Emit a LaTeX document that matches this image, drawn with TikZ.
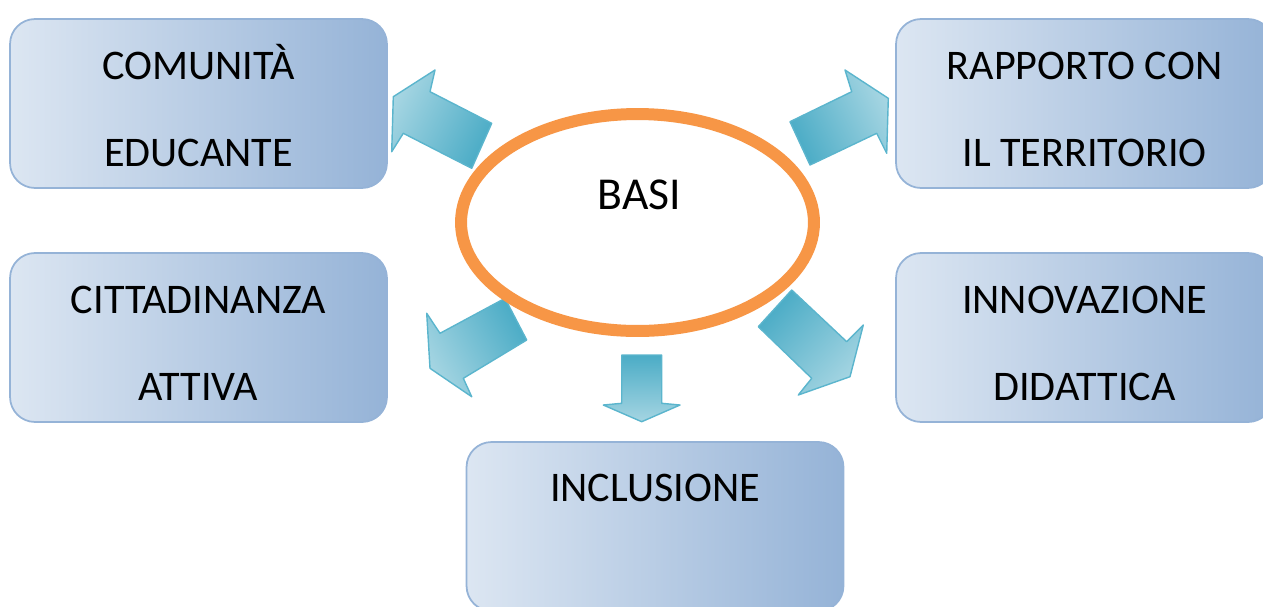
\documentclass[tikz,border=0pt]{standalone}
\usepackage{fontspec}
\setmainfont{Carlito}
\usetikzlibrary{calc, shapes.geometric}
\definecolor{boxlight}{HTML}{DCE6F2}
\definecolor{boxdark}{HTML}{95B3D7}
\definecolor{boxedge}{HTML}{95B3D7}
\definecolor{arrowlight}{HTML}{A5D5E2}
\definecolor{arrowdark}{HTML}{4BACC6}
\definecolor{arrowedge}{HTML}{5BB5CD}
\definecolor{basiorange}{HTML}{F79646}
\tikzstyle{box}=[rectangle, rounded corners=0.5cm, draw=boxedge, line width=1pt, left color=boxlight, right color=boxdark, minimum width=7.54cm, minimum height=3.38cm, inner sep=0pt]
\tikzstyle{txt}=[inner sep=0pt, font=\fontsize{24}{29}\selectfont]
\tikzstyle{blockarrow}=[draw=arrowedge, line width=0.8pt, line join=round, top color=arrowlight, bottom color=arrowdark]

\begin{document}
\begin{tikzpicture}[x=0.02cm, y=-0.02cm]
		\useasboundingbox (0,0) rectangle (1263,606);

		% boxes round the centre
		\foreach \nm/\cx/\cy/\la/\lb in {comunita/198.5/103.5/COMUNITÀ/EDUCANTE, rapporto/1084.5/103.5/RAPPORTO CON/IL TERRITORIO, cittadinanza/198.5/337.5/CITTADINANZA/ATTIVA, innovazione/1084.5/337.5/INNOVAZIONE/DIDATTICA}{
			\node[box] (\nm) at (\cx,\cy) {};
			\node[txt, anchor=base] (\nm a) at ($(\nm.north)+(0,61)$) {\la};
			\node[txt, anchor=base] (\nm b) at ($(\nm.north)+(0,148)$) {\lb};
		}
		\node[box] (inclusione) at (655,526.5) {};
		\node[txt, anchor=base] (inclusionea) at ($(inclusione.north)+(0,60)$) {INCLUSIONE};

		% block arrows
		\path[blockarrow, shading angle=63] (393.3,96.7) -- (435,70) -- (430,91.7) -- (491.7,123.3) -- (471.7,168.3) -- (403.3,133.3) -- (391.7,151.7) -- cycle;
		\path[blockarrow, shading angle=-64] (790,121.7) -- (851.7,91.7) -- (845,70) -- (888.3,98.3) -- (886.7,153.3) -- (876.7,133.3) -- (810,165) -- cycle;
		\path[blockarrow, shading angle=120] (505,298.3) -- (526.7,340) -- (463.3,378.3) -- (471.7,396.7) -- (430,368.3) -- (426.7,313.3) -- (440,333.3) -- cycle;
		\path[blockarrow, shading angle=-134] (791.7,290) -- (846.7,341.7) -- (863.3,325) -- (850,376.7) -- (798.3,395) -- (811.7,378.3) -- (758.3,326.7) -- cycle;
		\path[blockarrow, shading angle=180] (621.7,355) -- (661.7,355) -- (661.7,403.3) -- (680,405) -- (641.7,421.7) -- (603.3,405) -- (621.7,403.3) -- cycle;

		\node[ellipse, draw=basiorange, line width=0.24cm, fill=white, minimum width=7.06cm, minimum height=4.34cm, inner sep=0pt] (basi) at (637.5,222.5) {};
		\node[txt, font=\fontsize{26}{31}\selectfont] (basilbl) at ($(basi.center)+(2,-28)$) {BASI};
	\end{tikzpicture}
\end{document}
